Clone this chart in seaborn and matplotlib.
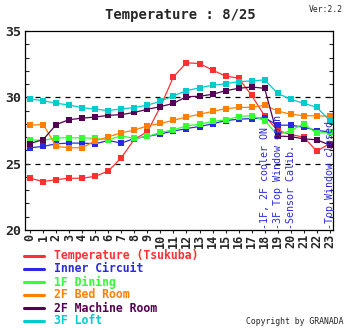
import matplotlib
matplotlib.use("Agg")
import matplotlib.pyplot as plt
from matplotlib.lines import Line2D
from matplotlib.ticker import MultipleLocator
import pandas as pd
import seaborn as sns

# ---- data ----
hours = list(range(24))

temp_tsukuba = [23.9, 23.65, 23.8, 23.9, 23.9, 24.05, 24.45, 25.45, 26.85, 27.4, 29.3, 31.55,
                32.6, 32.55, 32.05, 31.6, 31.45, 30.15, 28.6, 27.5, 27.2, 27.0, 25.95, 26.5]
inner_circuit = [26.2, 26.3, 26.5, 26.55, 26.55, 26.5, 26.75, 26.55, 26.9, 27.05, 27.25, 27.45,
                 27.65, 27.8, 28.0, 28.25, 28.35, 28.4, 28.45, 27.9, 27.9, 27.75, 27.5, 27.4]
dining_1f = [26.8, 26.75, 26.95, 26.95, 26.95, 26.9, 26.8, 27.1, 26.9, 27.05, 27.35, 27.55,
             27.85, 27.97, 28.18, 28.3, 28.55, 28.62, 28.25, 27.15, 27.5, 28.0, 27.3, 27.35]
bedroom_2f = [27.9, 27.95, 26.3, 26.2, 26.2, 26.73, 27.02, 27.33, 27.53, 27.85, 28.03, 28.27,
              28.52, 28.72, 28.94, 29.14, 29.24, 29.25, 29.4, 28.97, 28.72, 28.62, 28.6, 28.58]
machine_2f = [26.52, 26.82, 27.95, 28.32, 28.43, 28.52, 28.64, 28.7, 28.86, 29.1, 29.3, 29.55,
              30.05, 30.08, 30.23, 30.5, 30.68, 30.78, 30.68, 27.08, 27.04, 26.87, 26.8, 26.4]
loft_3f = [29.87, 29.75, 29.55, 29.42, 29.22, 29.11, 29.0, 29.14, 29.22, 29.42, 29.7, 30.12,
           30.5, 30.73, 30.9, 31.03, 31.19, 31.23, 31.32, 30.3, 29.85, 29.55, 29.25, 28.25]

series_names = ["Temperature (Tsukuba)", "Inner Circuit", "1F Dining",
                "2F Bed Room", "2F Machine Room", "3F Loft"]
series_values = [temp_tsukuba, inner_circuit, dining_1f, bedroom_2f, machine_2f, loft_3f]
series_colors = ["#ff3030", "#2a2ae0", "#33ff33", "#ff8000", "#550055", "#00cccc"]

event_hours = [18, 19, 20, 23]
event_labels = ["-1F, 2F cooler ON", "-3F Top Window open", "-Sensor Calib.", "-Top Window closed"]

title = "Temperature : 8/25"
version = "Ver:2.2"
copyright_text = "Copyright by GRANADA"

# ---- figure ----
sns.set_style("ticks")
plt.rcParams["font.family"] = ["DejaVu Sans Mono", "DejaVu Sans"]

W, H = 346, 328
fig = plt.figure(figsize=(W / 100, H / 100), dpi=100)
ax = fig.add_axes([25 / W, 1 - 230 / H, (333 - 25) / W, (230 - 31) / H])

frames = []
for name, vals in zip(series_names, series_values):
    frames.append(pd.DataFrame({"hour": hours, "temp": vals, "series": name}))
df = pd.concat(frames, ignore_index=True)

for name, color in zip(series_names, series_colors):
    sub = df[df["series"] == name]
    sns.lineplot(data=sub, x="hour", y="temp", ax=ax, color=color, linewidth=0.9,
                 marker="s", markersize=4.2, markeredgewidth=0, legend=False)

for yref in (25, 30):
    ax.axhline(yref, color="black", linestyle=(0, (4, 4)), linewidth=0.9, zorder=0)

ax.set_xlim(-0.4, 23.25)
ax.set_ylim(20, 35)
ax.set_xlabel("")
ax.set_ylabel("")
ax.set_xticks(hours)
ax.set_xticklabels([str(h) for h in hours], rotation=90, fontsize=8.5, fontweight="bold")
ax.yaxis.set_major_locator(MultipleLocator(5))
ax.yaxis.set_minor_locator(MultipleLocator(1))
ax.tick_params(axis="y", which="both", direction="in", left=True, right=True,
               length=3, width=0.8, labelsize=9.5, pad=3)
ax.tick_params(axis="x", direction="out", length=2, width=0.8, pad=1)
for lab in ax.get_yticklabels():
    lab.set_fontweight("bold")
for sp in ax.spines.values():
    sp.set_visible(True)
    sp.set_linewidth(0.9)
    sp.set_color("black")

for h, txt in zip(event_hours, event_labels):
    ax.text(h, 20.1, txt, rotation=90, ha="center", va="bottom",
            color="#2a2ae0", fontsize=7.2)

fig.text(180 / W, 1 - 15 / H, title, ha="center", va="center",
         fontsize=10, fontweight="bold")
fig.text(343 / W, 1 - 10 / H, version, ha="right", va="center", fontsize=5.8)
fig.text(343 / W, 1 - 322 / H, copyright_text, ha="right", va="center", fontsize=5.9)

# legend rows under the plot
for i, (name, color) in enumerate(zip(series_names, series_colors)):
    y = 1 - (256 + 13 * i) / H
    fig.add_artist(Line2D([24 / W, 44 / W], [y, y], color=color, linewidth=2.2))
    fig.text(54 / W, y, name, ha="left", va="center", color=color,
             fontsize=8.3, fontweight="bold")

fig.savefig("out.png", dpi=100)
